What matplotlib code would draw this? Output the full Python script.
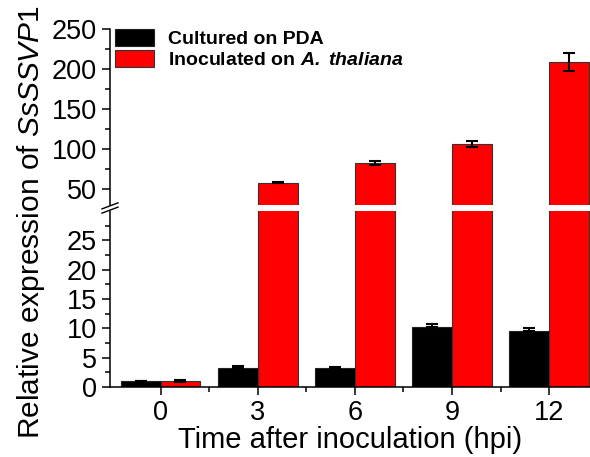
import matplotlib
matplotlib.use("Agg")
import matplotlib.pyplot as plt
from matplotlib.ticker import FixedLocator
import numpy as np

plt.rcParams['font.family'] = ['Liberation Sans', 'DejaVu Sans']
plt.rcParams['mathtext.fontset'] = 'custom'
plt.rcParams['mathtext.rm'] = 'Liberation Sans'
plt.rcParams['mathtext.it'] = 'Liberation Sans:italic'
plt.rcParams['mathtext.bf'] = 'Liberation Sans:bold'
plt.rcParams['mathtext.bfit'] = 'Liberation Sans:italic:bold'

# data
times = ['0', '3', '6', '9', '12']
pda = [1.0, 3.3, 3.3, 10.3, 9.6]
pda_err = [0.1, 0.2, 0.15, 0.5, 0.5]
plant = [1.0, 58.0, 82.5, 106.0, 209.0]
plant_err = [0.15, 1.0, 3.0, 4.0, 11.5]

x = np.arange(len(times))
w = 0.41

fig = plt.figure(figsize=(5.9, 4.57), dpi=100)
ax_top = fig.add_axes([110 / 590, 1 - 205 / 457, 480 / 590, 176 / 457])
ax_bot = fig.add_axes([110 / 590, 1 - 387 / 457, 480 / 590, 176 / 457])

for ax in (ax_top, ax_bot):
    ax.bar(x - w / 2, pda, w, color='black', edgecolor='#222222', linewidth=0.8,
           label='Cultured on PDA', zorder=2)
    ax.bar(x + w / 2, plant, w, color='#ff0000', edgecolor='#333333', linewidth=0.8,
           label=r'Inoculated on $\mathbfit{A.}$ $\mathbfit{thaliana}$', zorder=2)
    ax.errorbar(x - w / 2, pda, yerr=[np.zeros(len(pda)), pda_err], fmt='none',
                ecolor='black', elinewidth=1.5, capsize=4, capthick=1.5, zorder=3)
    ax.errorbar(x + w / 2, plant, yerr=plant_err, fmt='none',
                ecolor='black', elinewidth=1.5, capsize=4, capthick=1.5, zorder=3)
    ax.set_xlim(-0.52, 4.42)
    for s in ('top', 'right'):
        ax.spines[s].set_visible(False)
    ax.spines['left'].set_linewidth(1.1)
    ax.spines['bottom'].set_linewidth(1.1)
    ax.tick_params(axis='both', which='major', direction='out', length=6, width=1.1,
                   labelsize=19.5)
    ax.tick_params(axis='both', which='minor', direction='out', length=3.5, width=1.1)

ax_top.set_ylim(30, 250)
ax_top.yaxis.set_major_locator(FixedLocator([50, 100, 150, 200, 250]))
ax_top.yaxis.set_minor_locator(FixedLocator([75, 125, 175, 225]))
ax_top.spines['bottom'].set_visible(False)
ax_top.set_xticks([])
ax_top.tick_params(axis='x', which='both', bottom=False, labelbottom=False)

ax_bot.set_ylim(0, 30)
ax_bot.yaxis.set_major_locator(FixedLocator([0, 5, 10, 15, 20, 25]))
ax_bot.yaxis.set_minor_locator(FixedLocator([2.5, 7.5, 12.5, 17.5, 22.5, 27.5]))
ax_bot.set_xticks(x)
ax_bot.set_xticklabels(times)
ax_bot.xaxis.set_minor_locator(FixedLocator([0.5, 1.5, 2.5, 3.5]))
ax_bot.set_xlabel('Time after inoculation (hpi)', fontsize=21, labelpad=0)

# axis break marks
dx, dy = 8 / 480, 3 / 176
ax_top.plot([-dx, dx], [-dy - 0.005, dy - 0.005], transform=ax_top.transAxes,
            color='black', lw=1.0, clip_on=False)
ax_bot.plot([-dx, dx], [1 - dy + 0.005, 1 + dy + 0.005], transform=ax_bot.transAxes,
            color='black', lw=1.0, clip_on=False)

ax_top.legend(loc='upper left', bbox_to_anchor=(5 / 480, 1.0), frameon=False,
              borderpad=0, borderaxespad=0, handlelength=2.0, handleheight=1.0,
              handletextpad=0.75, labelspacing=0.08,
              prop={'weight': 'bold', 'size': 14})

fig.text(31 / 590, 1 - 222 / 457, r'Relative expression of $\it{SsSSVP1}$',
         rotation=90, ha='center', va='center', fontsize=21.5)

fig.savefig('out.png', dpi=100)
